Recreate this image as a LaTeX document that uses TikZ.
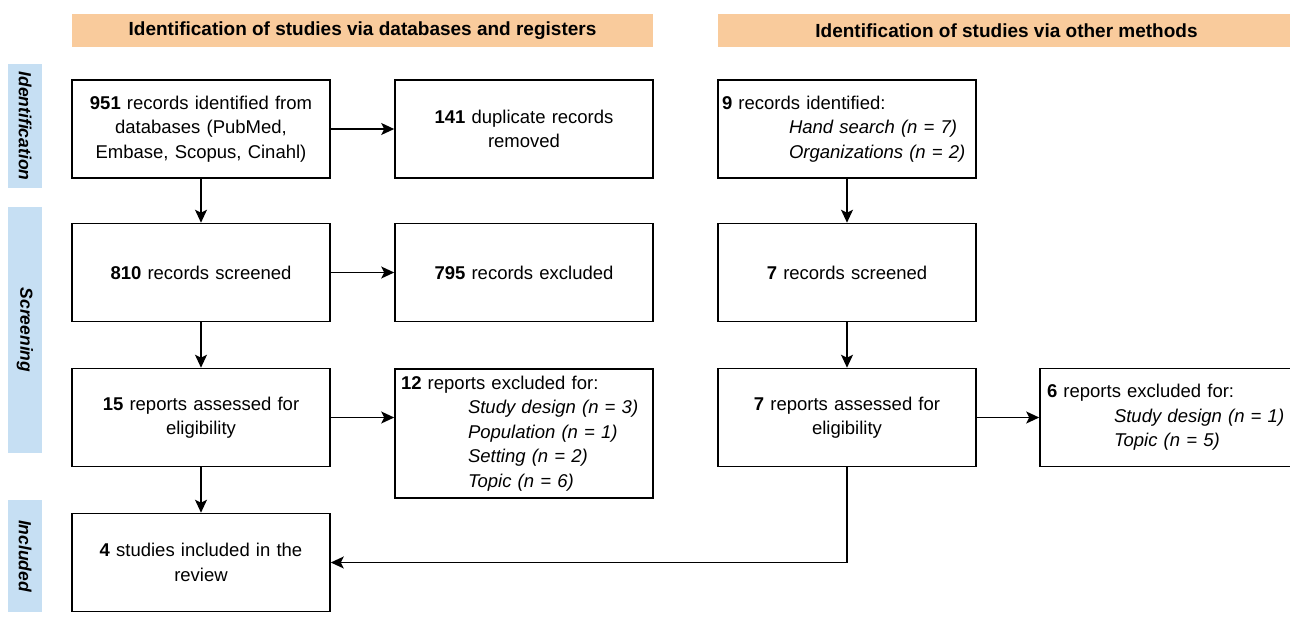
\documentclass[tikz,border=0pt]{standalone}
\usepackage{fontspec}
\setmainfont{Liberation Sans}
\usetikzlibrary{arrows.meta}
\definecolor{hdr}{HTML}{F9CB9C}
\definecolor{side}{HTML}{C6DFF3}
\tikzset{
  box/.style={draw=black, line width=1.6pt, minimum width=258pt, minimum height=98pt,
    inner sep=0pt, text width=250pt, align=center, font=\fontsize{18.5}{24.5}\selectfont},
  lbox/.style={box, align=left},
  hbar/.style={fill=hdr, draw=none, minimum height=33pt, inner sep=0pt, font=\bfseries\fontsize{19}{22}\selectfont},
  sbar/.style={fill=side, draw=none, minimum width=34pt, inner sep=0pt},
  slabel/.style={rotate=-90, font=\bfseries\itshape\fontsize{17.5}{21}\selectfont},
  arr/.style={line width=1.6pt, -{Stealth[length=13pt,width=12pt,inset=3pt]}}
}
\newcommand{\ind}{\hspace*{67pt}}
\begin{document}
\begin{tikzpicture}[x=1pt,y=-1pt]
\useasboundingbox (0,0) rectangle (1290,619);
% headers
\node[hbar, minimum width=581pt] (h1) at (362.5,30.5) {Identification of studies via databases and registers};
\node[hbar, minimum width=577pt] (h2) at (1006.5,30.5) {Identification of studies via other methods};
% side bars
\node[sbar, minimum height=124pt] (s1) at (25,126) {};
\node[slabel] (t1) at (s1) {Identification};
\node[sbar, minimum height=246pt] (s2) at (25,330) {};
\node[slabel] (t2) at (s2) {Screening};
\node[sbar, minimum height=112pt] (s3) at (25,556) {};
\node[slabel] (t3) at (s3) {Included};
% boxes
\node[box] (A) at (201,129) {\textbf{951} records identified from\\ databases (PubMed,\\ Embase, Scopus, Cinahl)};
\node[box] (B) at (524,129) {\textbf{141} duplicate records\\ removed};
\node[lbox, inner xsep=4pt, text width=250pt] (C) at (847,129) {\textbf{9} records identified:\\ \ind\textit{Hand search (n = 7)}\\ \ind\textit{Organizations (n = 2)}};
\node[box] (D) at (201,272.5) {\textbf{810} records screened};
\node[box] (E) at (524,272.5) {\textbf{795} records excluded};
\node[box] (F) at (847,272.5) {\textbf{7} records screened};
\node[box] (G) at (201,417.5) {\textbf{15} reports assessed for\\ eligibility};
\node[lbox, minimum height=129pt, inner xsep=6pt, text width=246pt] (H) at (524,433.5) {\textbf{12} reports excluded for:\\ \ind\textit{Study design (n = 3)}\\ \ind\textit{Population (n = 1)}\\ \ind\textit{Setting (n = 2)}\\ \ind\textit{Topic (n = 6)}};
\node[lbox, inner xsep=7pt, text width=244pt] (J) at (1169,417.5) {\textbf{6} reports excluded for:\\ \ind\textit{Study design (n = 1)}\\ \ind\textit{Topic (n = 5)}};
\node[box] (I) at (847,417.5) {\textbf{7} reports assessed for\\ eligibility};
\node[box] (K) at (201,562.5) {\textbf{4} studies included in the\\ review};
% connectors
\draw[arr] (A) -- (B);
\draw[arr] (A) -- (D);
\draw[arr] (D) -- (E);
\draw[arr] (C) -- (F);
\draw[arr] (D) -- (G);
\draw[arr] (F) -- (I);
\draw[arr] (G.east) -- (G.east -| H.west);
\draw[arr] (I) -- (J);
\draw[arr] (G) -- (K);
\draw[arr] (I.south) |- (K.east);
\end{tikzpicture}
\end{document}
